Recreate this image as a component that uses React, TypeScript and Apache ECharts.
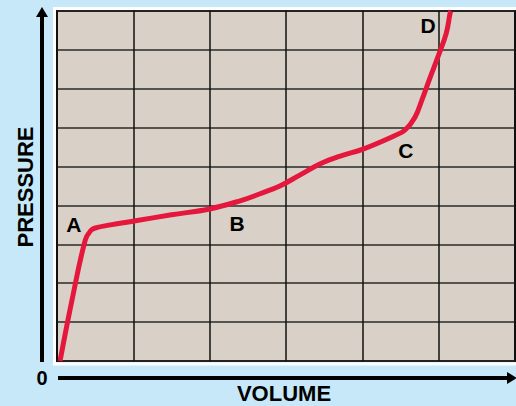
import React, { useEffect, useRef } from "react";
import * as echarts from "echarts";

// Curve of pressure vs volume, in grid units (6 columns x 9 rows)
const volume = [0.04, 0.2, 0.37, 0.44, 0.5, 0.7, 1.01, 1.5, 2.0, 2.4, 2.66, 2.92, 3.18, 3.45, 3.71, 4.01, 4.43, 4.56, 4.69, 4.78, 4.89, 5.0, 5.1, 5.15, 5.16];
const pressure = [0.0, 1.6, 3.11, 3.35, 3.42, 3.5, 3.6, 3.76, 3.91, 4.12, 4.3, 4.5, 4.78, 5.07, 5.27, 5.45, 5.8, 5.94, 6.27, 6.71, 7.3, 7.87, 8.43, 8.95, 9.0];
const pointLabels = ["A", "B", "C", "D"];
const labelVolume = [0.22, 2.36, 4.57, 4.86];
const labelPressure = [3.52, 3.53, 5.42, 8.62];

export default function App() {
  const ref = useRef<HTMLDivElement>(null);
  useEffect(() => {
    if (!ref.current) return;
    const chart = echarts.init(ref.current, null, { renderer: "svg" });
    const curve = volume.map((v, i) => [v, pressure[i]]);
    const labelData = pointLabels.map((l, i) => ({ value: [labelVolume[i], labelPressure[i]], name: l }));
    const font = "'Liberation Sans Narrow', 'Arial Narrow', 'Liberation Sans', sans-serif";
    chart.setOption({
      animation: false,
      backgroundColor: "#c6e8f8",
      grid: {
        left: 57,
        right: 1,
        top: 11,
        bottom: 45,
        show: true,
        backgroundColor: "#d9d1c8",
        borderColor: "#111",
        borderWidth: 2,
      },
      xAxis: {
        type: "value",
        min: 0,
        max: 6,
        interval: 1,
        axisLine: { show: false },
        axisTick: { show: false },
        axisLabel: { show: false },
        splitLine: { show: true, lineStyle: { color: "#111", width: 1.5 } },
      },
      yAxis: {
        type: "value",
        min: 0,
        max: 9,
        interval: 1,
        axisLine: { show: false },
        axisTick: { show: false },
        axisLabel: { show: false },
        splitLine: { show: true, lineStyle: { color: "#2a2a2a", width: 1.5 } },
      },
      series: [
        {
          type: "line",
          data: curve,
          smooth: 0.4,
          showSymbol: false,
          lineStyle: { color: "#e5173d", width: 5 },
          z: 3,
        },
        {
          type: "scatter",
          data: labelData,
          symbolSize: 0,
          itemStyle: { opacity: 1 },
          z: 4,
          label: {
            show: true,
            position: "inside",
            formatter: (p: any) => p.name,
            color: "#000",
            fontWeight: "bold",
            fontSize: 21,
            fontFamily: font,
          },
        },
      ],
      graphic: [
        {
          type: "rect",
          shape: { x: 54.5, y: 8.5, width: 470, height: 355.5 },
          style: { fill: "none", stroke: "#ffffff", lineWidth: 3 },
          silent: true,
        },
        {
          type: "line",
          shape: { x1: 42, y1: 16, x2: 42, y2: 362 },
          style: { stroke: "#000", lineWidth: 4 },
        },
        {
          type: "polygon",
          shape: { points: [[42, 7], [36, 17], [48, 17]] },
          style: { fill: "#000" },
        },
        {
          type: "line",
          shape: { x1: 58, y1: 378, x2: 508, y2: 378 },
          style: { stroke: "#000", lineWidth: 4 },
        },
        {
          type: "polygon",
          shape: { points: [[517, 378], [507, 372], [507, 384]] },
          style: { fill: "#000" },
        },
        {
          type: "text",
          x: 42,
          y: 378,
          style: {
            text: "0",
            fill: "#000",
            font: `bold 20px ${font}`,
            textAlign: "center",
            textVerticalAlign: "middle",
          },
        },
        {
          type: "text",
          x: 284,
          y: 393,
          style: {
            text: "VOLUME",
            fill: "#000",
            font: "bold 22px 'Liberation Sans', Arial, sans-serif",
            textAlign: "center",
            textVerticalAlign: "middle",
          },
        },
        {
          type: "text",
          x: 25,
          y: 187,
          rotation: Math.PI / 2,
          style: {
            text: "PRESSURE",
            fill: "#000",
            font: "bold 22px 'Liberation Sans', Arial, sans-serif",
            textAlign: "center",
            textVerticalAlign: "middle",
          },
        },
      ],
    });
    return () => chart.dispose();
  }, []);
  return (
    <div
      ref={ref}
      style={{ position: "absolute", left: 0, top: 0, width: 516, height: 406 }}
    />
  );
}
